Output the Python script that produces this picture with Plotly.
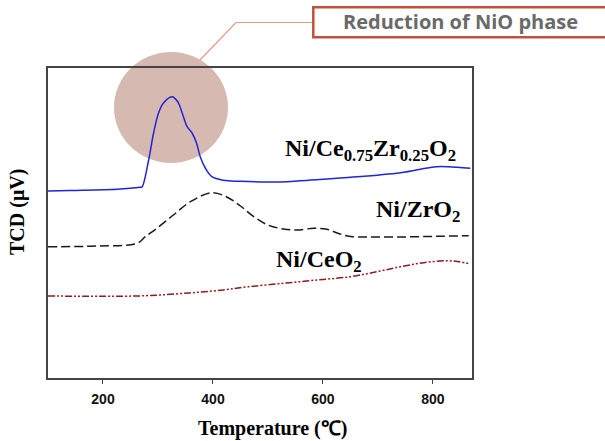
import plotly.graph_objects as go

# ---- data ----
temp_nicezr = [100, 140, 226, 268, 271, 283, 292, 301, 310, 325, 336, 344, 353, 362, 370, 377, 386, 398, 419, 450, 498, 535, 559, 650, 741, 807, 844, 868]
tcd_nicezr = [187, 187.5, 188.7, 190.7, 191, 218, 245, 265, 275, 281.3, 276.3, 265, 251.3, 245, 235, 221, 210, 201.3, 197.7, 196.7, 196, 196.3, 197.3, 200.7, 205.3, 211.3, 210.7, 209.7]

temp_nizr = [100, 189, 262, 277, 298, 328, 359, 398, 425, 450, 475, 500, 528, 553, 583, 607, 631, 650, 680, 741, 807, 865]
tcd_nizr = [131.3, 132, 134.7, 141.3, 149.7, 163, 176.3, 185.3, 181, 172, 161, 153, 149, 148, 149.7, 148.7, 144, 141.5, 141, 141, 141.7, 142.3]

temp_nice = [100, 262, 322, 371, 419, 465, 528, 589, 650, 698, 741, 783, 825, 847, 868]
tcd_nice = [82, 82, 83.7, 85.7, 88, 91.3, 94.7, 98, 101.3, 106.3, 111.3, 115.3, 117.3, 116.3, 114]

x_ticks = [200, 400, 600, 800]
x_tick_labels = ["200", "400", "600", "800"]

labels = ["Ni/Ce<sub>0.75</sub>Zr<sub>0.25</sub>O<sub>2</sub>", "Ni/ZrO<sub>2</sub>", "Ni/CeO<sub>2</sub>"]
callout_text = "Reduction of NiO phase"

# ---- layout helpers (pixel -> paper) ----
W, H = 605, 441
ML, MR, MT, MB = 48, 133, 68, 63
PW, PH = W - ML - MR, H - MT - MB


def px(x):
    return (x - ML) / PW


def py(y):
    return (H - MB - y) / PH


serif = "Liberation Serif, Times New Roman, serif"

fig = go.Figure()
fig.add_trace(go.Scatter(x=temp_nicezr, y=tcd_nicezr, mode="lines",
                         line=dict(color="#2323d8", width=1.5), line_shape="spline"))
fig.add_trace(go.Scatter(x=temp_nizr, y=tcd_nizr, mode="lines",
                         line=dict(color="#1a1a1a", width=1.5, dash="9px,4px"), line_shape="spline"))
fig.add_trace(go.Scatter(x=temp_nice, y=tcd_nice, mode="lines",
                         line=dict(color="#8b1e1e", width=1.5, dash="7px,2px,2px,2px,2px,2px"),
                         line_shape="spline"))

axis_common = dict(showline=True, mirror=True, linecolor="#444444", linewidth=1.5,
                   showgrid=False, zeroline=False)

fig.update_xaxes(range=[100, 871], tickvals=x_ticks, ticktext=x_tick_labels,
                 ticks="outside", ticklen=4, tickwidth=1.2, tickcolor="#444444",
                 ticklabelstandoff=3,
                 tickfont=dict(family="Liberation Sans Narrow, Liberation Sans, Arial", size=14,
                               color="#111111", weight="bold"),
                 **axis_common)
fig.update_yaxes(range=[0, 310], showticklabels=False, ticks="", **axis_common)

shapes = [
    # highlight circle
    dict(type="circle", xref="paper", yref="paper", layer="below",
         x0=px(114), x1=px(228), y0=py(163), y1=py(52),
         fillcolor="#d6b9b1", line=dict(width=0)),
    # callout leader
    dict(type="path", xref="paper", yref="paper",
         path=f"M {px(200)} {py(60)} L {px(236)} {py(22.5)} L {px(313)} {py(22.5)}",
         line=dict(color="#e39a82", width=1.2)),
    # callout box
    dict(type="rect", xref="paper", yref="paper",
         x0=px(313.3), x1=px(615), y0=py(37.3), y1=py(7.3),
         fillcolor="white", line=dict(color="#c4503a", width=2.5)),
]

annotations = [
    dict(text=callout_text, x=px(460), y=py(22), xref="paper", yref="paper",
         xanchor="center", yanchor="middle", showarrow=False,
         font=dict(family="Open Sans, DejaVu Sans, sans-serif", size=20, color="#6a6a6a", weight="bold")),
    dict(text=labels[0], x=px(458), y=py(150), xref="paper", yref="paper",
         xanchor="right", yanchor="middle", showarrow=False,
         font=dict(family=serif, size=24, color="black", weight="bold")),
    dict(text=labels[1], x=px(462), y=py(211), xref="paper", yref="paper",
         xanchor="right", yanchor="middle", showarrow=False,
         font=dict(family=serif, size=24, color="black", weight="bold")),
    dict(text=labels[2], x=px(274), y=py(261), xref="paper", yref="paper",
         xanchor="left", yanchor="middle", showarrow=False,
         font=dict(family=serif, size=24, color="black", weight="bold")),
    dict(text="TCD (μV)", x=px(17), y=py(212), xref="paper", yref="paper",
         xanchor="center", yanchor="middle", showarrow=False, textangle=-90,
         font=dict(family=serif, size=20, color="black", weight="bold")),
    dict(text="Temperature (℃)", x=px(272), y=py(428), xref="paper", yref="paper",
         xanchor="center", yanchor="middle", showarrow=False,
         font=dict(family=serif, size=20, color="black", weight="bold")),
]

fig.update_layout(width=W, height=H, margin=dict(l=ML, r=MR, t=MT, b=MB),
                  paper_bgcolor="white", plot_bgcolor="rgba(0,0,0,0)",
                  showlegend=False, shapes=shapes, annotations=annotations)

fig.write_html("out.html")
